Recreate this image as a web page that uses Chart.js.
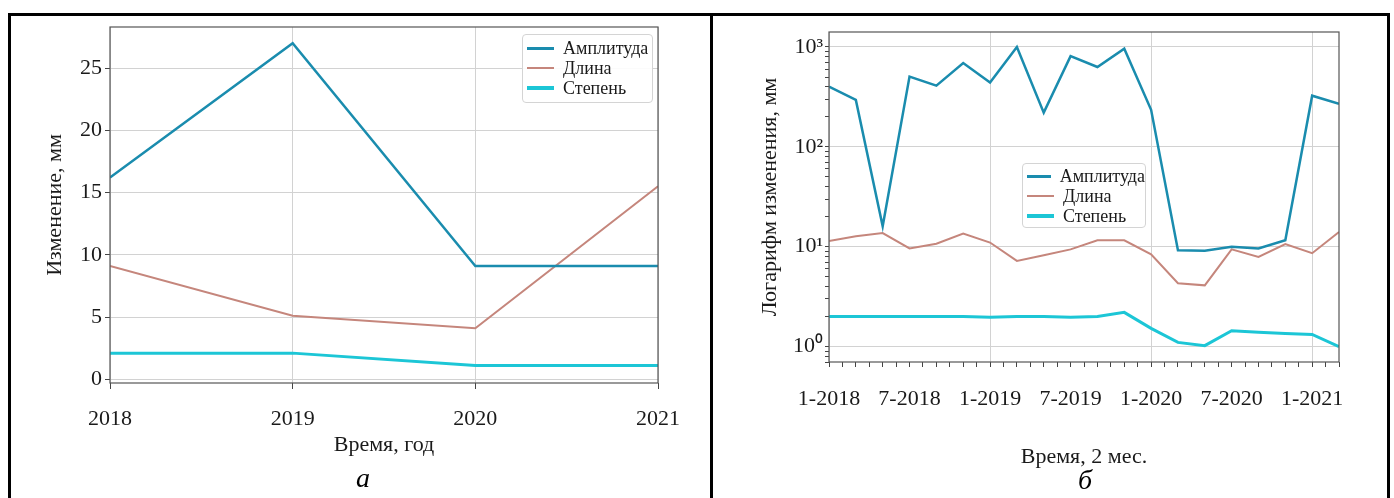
<!DOCTYPE html>
<html>
<head>
<meta charset="utf-8">
<script src="https://cdn.jsdelivr.net/npm/chart.js@4.4.0/dist/chart.umd.min.js"></script>
<style>
  html, body { margin: 0; padding: 0; background: #fff; width: 1394px; height: 498px; overflow: hidden; }
  .cell { position: absolute; top: 13px; height: 520px; box-sizing: border-box; border-top: 3px solid #000; border-left: 3px solid #000; }
  #cellA { left: 8px; width: 702px; }
  #cellB { left: 710px; width: 680px; border-right: 3px solid #000; }
  canvas { position: absolute; }
  #chartA { left: 11px; top: 16px; }
  #chartB { left: 713px; top: 16px; }
  .legend { position: absolute; background: rgba(255,255,255,0.9); border: 1px solid #d4d4d4; border-radius: 4px;
            font: 18px "Liberation Serif", serif; color: #1a1a1a; box-sizing: border-box; padding: 3px 0 0 4px; }
  .legend .item { height: 20px; line-height: 20px; display: flex; align-items: center; white-space: nowrap; }
  .legend .sw { display: inline-block; width: 27px; margin-right: 9px; }
  #legA { left: 522px; top: 34px; width: 131px; height: 69px; }
  #legB { left: 1022px; top: 163px; width: 124px; height: 65px; padding-top: 2px; }
  .sub { position: absolute; width: 40px; text-align: center; font: italic 28px "Liberation Serif", serif; line-height: 30px; color: #000; }
</style>
</head>
<body>
<div class="cell" id="cellA"></div>
<div class="cell" id="cellB"></div>
<canvas id="chartA" width="699" height="460"></canvas>
<canvas id="chartB" width="676" height="460"></canvas>
<div class="legend" id="legA"></div>
<div class="legend" id="legB"></div>
<div class="sub" style="left:343px; top:463px;">а</div>
<div class="sub" style="left:1065px; top:465px;">б</div>

<script>
// --- panel а: yearly values
const years = [2018, 2019, 2020, 2021];
const amplitudeYear = [16.2, 27.0, 9.1, 9.1];
const lengthYear = [9.1, 5.1, 4.1, 15.5];
const degreeYear = [2.1, 2.1, 1.1, 1.1];

// --- panel б: every 2 months, log scale
const periods = ['1-2018', '3-2018', '5-2018', '7-2018', '9-2018', '11-2018',
                 '1-2019', '3-2019', '5-2019', '7-2019', '9-2019', '11-2019',
                 '1-2020', '3-2020', '5-2020', '7-2020', '9-2020', '11-2020',
                 '1-2021', '3-2021'];
const amplitudeMonth = [400, 295, 16, 505, 410, 690, 440, 1000, 220, 810, 630, 960, 235, 9.2, 9.1, 10.0, 9.6, 11.6, 325, 270];
const lengthMonth = [11.4, 12.7, 13.7, 9.6, 10.7, 13.5, 11.0, 7.2, 8.2, 9.4, 11.6, 11.6, 8.4, 4.3, 4.1, 9.4, 7.9, 10.6, 8.6, 14.0];
const degreeMonth = [2.0, 2.0, 2.0, 2.0, 2.0, 2.0, 1.96, 2.0, 2.0, 1.96, 2.0, 2.2, 1.52, 1.1, 1.02, 1.44, 1.39, 1.35, 1.32, 1.0];

const xTickLabels = ['1-2018', '7-2018', '1-2019', '7-2019', '1-2020', '7-2020', '1-2021'];
const logTicks = [1, 10, 100, 1000];
const logTickLabels = ['10⁰', '10¹', '10²', '10³'];

const seriesNames = ['Амплитуда', 'Длина', 'Степень'];
const seriesColors = ['#1a8cae', '#c5867c', '#1cc6d6'];
const seriesWidths = [2.5, 2, 3];

const FONT = "'Liberation Serif', 'Times New Roman', serif";
const GRID = '#d2d2d2';

// "m-yyyy" -> months since Jan 2018
function monthIndex(s) {
  const p = s.split('-');
  return (parseInt(p[1]) - 2018) * 12 + parseInt(p[0]) - 1;
}
function isPow10(v) {
  const l = Math.log10(v);
  return Math.abs(l - Math.round(l)) < 1e-6;
}

const frame = {
  id: 'frame',
  afterDraw(chart) {
    const { ctx, chartArea: a } = chart;
    ctx.save();
    ctx.strokeStyle = '#555';
    ctx.lineWidth = 1.2;
    ctx.strokeRect(a.left, a.top, a.right - a.left, a.bottom - a.top);
    ctx.restore();
  }
};

// fixed axis sizes so the plot boxes land where the reference has them
function fixY(w) {
  return s => { s.width = w; s.paddingTop = 0; s.paddingBottom = 0; };
}
function fixX(h) {
  return s => { s.height = h; s.paddingLeft = 0; s.paddingRight = 0; };
}

function makeDatasets(values, xs) {
  return values.map((vals, i) => ({
    label: seriesNames[i],
    data: vals.map((v, j) => ({ x: xs[j], y: v })),
    borderColor: seriesColors[i],
    backgroundColor: seriesColors[i],
    borderWidth: seriesWidths[i],
    pointRadius: 0,
    tension: 0,
    fill: false
  }));
}

function buildLegend(el, chart) {
  el.innerHTML = chart.data.datasets.map(ds =>
    '<div class="item"><span class="sw" style="background:' + ds.borderColor +
    ';height:' + (ds.borderWidth + 0.5) + 'px"></span>' + ds.label + '</div>').join('');
}

var chartA = new Chart(document.getElementById('chartA'), {
  type: 'line',
  data: { datasets: makeDatasets([amplitudeYear, lengthYear, degreeYear], years) },
  options: {
    responsive: false,
    animation: false,
    layout: { padding: { left: 0, right: 52, top: 11, bottom: 0 } },
    plugins: { legend: { display: false }, tooltip: { enabled: false } },
    scales: {
      x: {
        type: 'linear', min: 2018, max: 2021,
        afterFit: fixX(93),
        border: { display: false },
        grid: { color: GRID, tickColor: '#444', tickLength: 6 },
        ticks: { stepSize: 1, padding: 17, color: '#1a1a1a', font: { family: FONT, size: 22 },
                 callback: v => String(v) },
        title: { display: true, text: 'Время, год', color: '#1a1a1a', font: { family: FONT, size: 22 },
                 padding: { top: 0, bottom: 18 } }
      },
      y: {
        min: -0.3, max: 28.3,
        afterFit: fixY(99),
        border: { display: false },
        grid: { color: GRID, tickColor: '#444', tickLength: 5 },
        ticks: { stepSize: 5, includeBounds: false, padding: 3, color: '#1a1a1a', font: { family: FONT, size: 22 } },
        title: { display: true, text: 'Изменение, мм', color: '#1a1a1a', font: { family: FONT, size: 22 },
                 padding: { top: 31, bottom: 0 } }
      }
    }
  },
  plugins: [frame]
});

const periodX = periods.map(monthIndex);
const labelX = xTickLabels.map(monthIndex);

var chartB = new Chart(document.getElementById('chartB'), {
  type: 'line',
  data: { datasets: makeDatasets([amplitudeMonth, lengthMonth, degreeMonth], periodX) },
  options: {
    responsive: false,
    animation: false,
    layout: { padding: { left: 0, right: 50, top: 16, bottom: 0 } },
    plugins: { legend: { display: false }, tooltip: { enabled: false } },
    scales: {
      x: {
        type: 'linear', min: 0, max: 38,
        afterFit: fixX(114),
        border: { display: false },
        grid: { color: c => (c.tick && c.tick.value % 12 === 0) ? GRID : 'rgba(0,0,0,0)',
                tickColor: '#444', tickLength: 5 },
        ticks: { stepSize: 1, autoSkip: false, maxRotation: 0, minRotation: 0, padding: 19,
                 color: '#1a1a1a', font: { family: FONT, size: 22 },
                 callback: v => { const i = labelX.indexOf(v); return i >= 0 ? xTickLabels[i] : ''; } },
        title: { display: true, text: 'Время, 2 мес.', color: '#1a1a1a', font: { family: FONT, size: 22 },
                 padding: { top: 0, bottom: 6 } }
      },
      y: {
        type: 'logarithmic',
        min: Math.pow(10, -0.15), max: Math.pow(10, 3.15),
        afterFit: fixY(116),
        afterBuildTicks: s => {
          s.ticks = s.ticks.filter(t => {
            const m = t.value / Math.pow(10, Math.floor(Math.log10(t.value) + 1e-9));
            return Math.abs(m - Math.round(m)) < 1e-6;
          });
        },
        border: { display: false },
        grid: { color: c => (c.tick && isPow10(c.tick.value)) ? GRID : 'rgba(0,0,0,0)',
                tickColor: '#444', tickLength: 4 },
        ticks: { autoSkip: false, padding: 2, color: '#1a1a1a', font: { family: FONT, size: 22 },
                 callback: v => { const i = logTicks.findIndex(t => Math.abs(t - v) < 1e-6 * t); return i >= 0 ? logTickLabels[i] : ''; } },
        title: { display: true, text: 'Логарифм изменения, мм', color: '#1a1a1a', font: { family: FONT, size: 22 },
                 padding: { top: 44, bottom: 0 } }
      }
    }
  },
  plugins: [frame]
});

buildLegend(document.getElementById('legA'), chartA);
buildLegend(document.getElementById('legB'), chartB);
</script>
</body>
</html>
